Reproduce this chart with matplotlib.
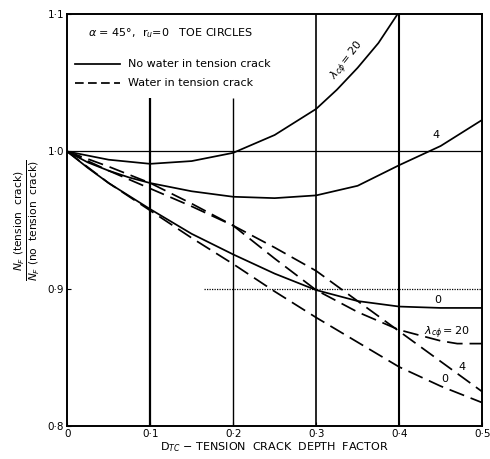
"""Tension crack correction chart: N_F ratio against crack depth factor."""

import matplotlib

matplotlib.use("Agg")
import matplotlib.pyplot as plt

# depth factor D_TC and ratio N_F(tension crack)/N_F(no tension crack)
dry_20_x = [0, 0.025, 0.05, 0.1, 0.15, 0.2, 0.25, 0.3, 0.325, 0.35, 0.375, 0.398]
dry_20_y = [1.0, 0.997, 0.994, 0.991, 0.993, 0.999, 1.012, 1.031, 1.045, 1.061, 1.079, 1.1]

dry_4_x = [0, 0.025, 0.05, 0.075, 0.1, 0.15, 0.2, 0.25, 0.3, 0.35, 0.4, 0.45, 0.5]
dry_4_y = [1.0, 0.992, 0.986, 0.981, 0.977, 0.971, 0.967, 0.966, 0.968, 0.975, 0.990, 1.004, 1.023]

dry_0_x = [0, 0.025, 0.05, 0.1, 0.15, 0.2, 0.25, 0.3, 0.35, 0.4, 0.45, 0.5]
dry_0_y = [1.0, 0.988, 0.977, 0.958, 0.940, 0.925, 0.911, 0.899, 0.891, 0.887, 0.886, 0.886]

wet_20_x = [0, 0.05, 0.1, 0.15, 0.2, 0.25, 0.3, 0.35, 0.4, 0.45, 0.47, 0.5]
wet_20_y = [1.0, 0.989, 0.977, 0.962, 0.946, 0.922, 0.899, 0.883, 0.870, 0.862, 0.860, 0.860]

wet_4_x = [0, 0.05, 0.1, 0.15, 0.2, 0.25, 0.3, 0.35, 0.4, 0.45, 0.5]
wet_4_y = [1.0, 0.986, 0.973, 0.960, 0.946, 0.930, 0.913, 0.891, 0.869, 0.847, 0.825]

wet_0_x = [0, 0.05, 0.1, 0.15, 0.2, 0.25, 0.3, 0.35, 0.4, 0.45, 0.5]
wet_0_y = [1.0, 0.977, 0.957, 0.937, 0.918, 0.898, 0.879, 0.861, 0.843, 0.829, 0.817]

x_ticks = [0, 0.1, 0.2, 0.3, 0.4, 0.5]
x_tick_labels = ["0", "0·1", "0·2", "0·3", "0·4", "0·5"]
y_ticks = [0.8, 0.9, 1.0, 1.1]
y_tick_labels = ["0·8", "0·9", "1·0", "1·1"]

DASH = (0, (9, 4))

fig = plt.figure(figsize=(4.9, 4.59), dpi=100)
ax = fig.add_axes([0.137, 0.072, 0.847, 0.897])
ax.set_xlim(0, 0.5)
ax.set_ylim(0.8, 1.1)

# reference lines
ax.axhline(1.0, color="black", lw=0.9)
ax.hlines(0.9, 0.165, 0.5, color="black", lw=0.9, linestyles=(0, (1, 1)))
ax.vlines(0.1, 0.8, 1.039, color="black", lw=1.6)
ax.vlines(0.2, 0.8, 1.039, color="black", lw=1.0)
ax.axvline(0.3, color="black", lw=1.2)
ax.axvline(0.4, color="black", lw=1.5)

# curves
for xs, ys in [(dry_20_x, dry_20_y), (dry_4_x, dry_4_y), (dry_0_x, dry_0_y)]:
    ax.plot(xs, ys, color="black", lw=1.25)
for xs, ys in [(wet_20_x, wet_20_y), (wet_4_x, wet_4_y), (wet_0_x, wet_0_y)]:
    ax.plot(xs, ys, color="black", lw=1.25, linestyle=DASH)

# curve labels
ax.text(0.338, 1.066, r"$\lambda_{c\phi}=20$", fontsize=8, rotation=52,
        ha="center", va="center")
ax.text(0.444, 1.012, "4", fontsize=8, ha="center", va="center")
ax.text(0.446, 0.892, "0", fontsize=8, ha="center", va="center")
ax.text(0.458, 0.868, r"$\lambda_{c\phi}=20$", fontsize=8, ha="center", va="center")
ax.text(0.476, 0.843, "4", fontsize=8, ha="center", va="center")
ax.text(0.455, 0.834, "0", fontsize=8, ha="center", va="center")

# key
ax.text(0.025, 1.086, r"$\alpha$ = 45°,  r$_u$=0   TOE CIRCLES", fontsize=8,
        va="center")
ax.plot([0.01, 0.064], [1.064, 1.064], color="black", lw=1.25)
ax.text(0.073, 1.064, "No water in tension crack", fontsize=8, va="center")
ax.plot([0.01, 0.064], [1.050, 1.050], color="black", lw=1.25, linestyle=(0, (5, 2.5)))
ax.text(0.073, 1.050, "Water in tension crack", fontsize=8, va="center")

ax.set_xticks(x_ticks)
ax.set_xticklabels(x_tick_labels)
ax.set_yticks(y_ticks)
ax.set_yticklabels(y_tick_labels)
ax.tick_params(direction="in", length=3, labelsize=7.5, pad=2)
for spine in ax.spines.values():
    spine.set_linewidth(1.4)

ax.set_xlabel(r"D$_{TC}$ $-$ TENSION  CRACK  DEPTH  FACTOR", fontsize=8, labelpad=1)
ax.set_ylabel(r"$\frac{N_F\ \mathrm{(tension\ \ crack)}}{N_F\ \mathrm{(no\ \ tension\ \ crack)}}$",
              fontsize=11, labelpad=4)

fig.savefig("out.png", dpi=100)
